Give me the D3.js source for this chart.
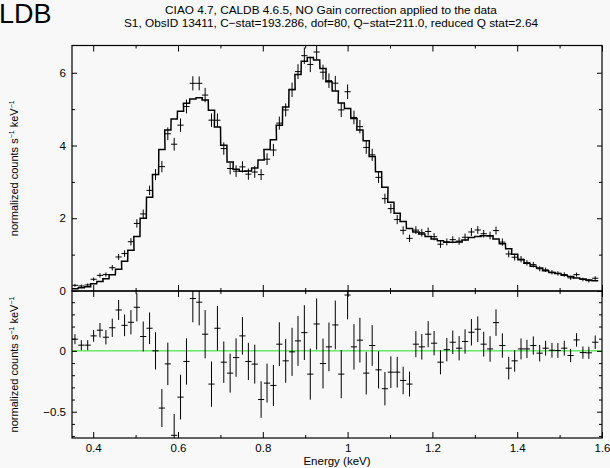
<!DOCTYPE html>
<html>
<head>
<meta charset="utf-8">
<title>Spectral fit</title>
<script src="https://cdnjs.cloudflare.com/ajax/libs/d3/7.8.5/d3.min.js"></script>
<style>
  body {
    margin: 0;
    background: #f8f8f8;
  }

  svg {
    display: block;
    font-family: "Liberation Sans", Arial, Helvetica, sans-serif;
  }

  .frame {
    fill: none;
    stroke: #000;
    stroke-width: 1.2;
  }
</style>
</head>
<body>
<div id="chart"></div>

<script>
  // bin centres (keV), one ACIS channel each
  var energy = [0.357, 0.372, 0.387, 0.401, 0.416, 0.430, 0.445, 0.460, 0.474, 0.489,
    0.503, 0.518, 0.533, 0.547, 0.562, 0.576, 0.591, 0.606, 0.620, 0.635,
    0.650, 0.664, 0.679, 0.693, 0.708, 0.723, 0.737, 0.752, 0.766, 0.781,
    0.796, 0.810, 0.825, 0.839, 0.854, 0.869, 0.883, 0.898, 0.912, 0.927,
    0.942, 0.956, 0.971, 0.985, 1.000, 1.015, 1.029, 1.044, 1.058, 1.073,
    1.088, 1.102, 1.117, 1.131, 1.146, 1.161, 1.175, 1.190, 1.204, 1.219,
    1.234, 1.248, 1.263, 1.277, 1.292, 1.307, 1.321, 1.336, 1.350, 1.365,
    1.380, 1.394, 1.409, 1.423, 1.438, 1.453, 1.467, 1.482, 1.496, 1.511,
    1.526, 1.540, 1.555, 1.569, 1.584];
  var binHalf = 0.0073;

  var model = [0.06, 0.09, 0.12, 0.20, 0.26, 0.34, 0.45, 0.60, 0.82, 1.12,
    1.50, 2.00, 2.58, 3.20, 3.89, 4.43, 4.73, 4.94, 5.16, 5.28,
    5.31, 5.25, 4.97, 4.51, 4.01, 3.55, 3.35, 3.29, 3.30, 3.38,
    3.60, 3.89, 4.16, 4.56, 5.06, 5.54, 5.95, 6.32, 6.42, 6.35,
    6.12, 5.75, 5.50, 5.17, 5.02, 4.74, 4.43, 4.13, 3.70, 3.28,
    2.85, 2.44, 2.14, 1.91, 1.72, 1.62, 1.57, 1.50, 1.43, 1.38,
    1.34, 1.34, 1.35, 1.40, 1.47, 1.50, 1.52, 1.51, 1.43, 1.30,
    1.16, 1.01, 0.86, 0.76, 0.68, 0.63, 0.56, 0.51, 0.48, 0.43,
    0.40, 0.36, 0.33, 0.30, 0.28];

  var counts = [0.156, 0.137, 0.167, 0.323, 0.430, 0.452, 0.640, 0.936, 1.030, 1.355,
    1.858, 2.118, 2.766, 3.200, 3.420, 4.323, 4.036, 4.560, 5.073, 5.710,
    5.710, 5.387, 4.697, 4.696, 3.917, 3.367, 3.295, 3.413, 3.213, 3.271,
    3.200, 3.625, 3.876, 4.615, 4.978, 5.532, 6.032, 6.470, 6.229, 6.571,
    6.016, 5.783, 5.713, 4.979, 5.479, 4.773, 4.518, 3.947, 3.744, 3.124,
    2.539, 2.265, 1.965, 1.667, 1.447, 1.675, 1.603, 1.637, 1.493, 1.287,
    1.350, 1.411, 1.372, 1.477, 1.623, 1.678, 1.575, 1.526, 1.662, 1.344,
    1.018, 0.928, 0.876, 0.776, 0.724, 0.611, 0.582, 0.515, 0.483, 0.452,
    0.362, 0.450, 0.316, 0.284, 0.351];

  var resid = [0.096, 0.047, 0.047, 0.123, 0.170, 0.112, 0.190, 0.336, 0.210, 0.235,
    0.358, 0.118, 0.186, 0.000, -0.470, -0.107, -0.694, -0.380, -0.087, 0.430,
    0.400, 0.137, -0.273, 0.186, -0.093, -0.183, -0.055, 0.123, -0.087, -0.109,
    -0.400, -0.265, -0.284, 0.055, -0.082, -0.008, 0.082, 0.150, -0.191, 0.221,
    -0.104, 0.033, 0.213, -0.191, 0.459, 0.033, 0.088, -0.183, 0.044, -0.156,
    -0.311, -0.175, -0.175, -0.243, -0.273, 0.055, 0.033, 0.137, 0.063, -0.093,
    0.010, 0.071, 0.022, 0.077, 0.153, 0.178, 0.055, 0.016, 0.232, 0.044,
    -0.142, -0.082, 0.016, 0.016, 0.044, -0.019, 0.022, 0.005, 0.003, 0.022,
    -0.038, 0.090, -0.014, -0.016, 0.071];

  var err = [0.041, 0.041, 0.041, 0.048, 0.059, 0.059, 0.075, 0.082, 0.089, 0.100,
    0.116, 0.123, 0.130, 0.153, 0.156, 0.175, 0.175, 0.184, 0.190, 0.195,
    0.190, 0.198, 0.186, 0.184, 0.170, 0.160, 0.158, 0.154, 0.153, 0.160,
    0.150, 0.160, 0.168, 0.180, 0.180, 0.198, 0.205, 0.225, 0.210, 0.210,
    0.205, 0.200, 0.200, 0.198, 0.200, 0.187, 0.184, 0.175, 0.167, 0.153,
    0.137, 0.130, 0.126, 0.113, 0.102, 0.107, 0.105, 0.107, 0.100, 0.100,
    0.096, 0.096, 0.100, 0.100, 0.109, 0.105, 0.102, 0.105, 0.109, 0.100,
    0.093, 0.089, 0.086, 0.075, 0.075, 0.068, 0.061, 0.061, 0.061, 0.061,
    0.055, 0.055, 0.050, 0.050, 0.055];

  var xMajor = [0.4, 0.6, 0.8, 1.0, 1.2, 1.4, 1.6];
  var xMinor = [0.5, 0.7, 0.9, 1.1, 1.3, 1.5];
  var topMajor = [0, 2, 4, 6];
  var topMinor = [1, 3, 5];
  var resMajor = [-0.5, 0];
  var resMinor = [-0.7, -0.6, -0.4, -0.3, -0.2, -0.1, 0.1, 0.2, 0.3, 0.4];

  var titleLines = ["CIAO 4.7, CALDB 4.6.5, NO Gain correction applied to the data",
    "S1, ObsID 13411, C\u2212stat=193.286, dof=80, Q\u2212stat=211.0, reduced Q stat=2.64"];
  var cornerText = "LDB";
  var xTitle = "Energy (keV)";

  var width = 610;
  var height = 468;
  var font = "'Liberation Sans', Arial, Helvetica, sans-serif";

  var svg = d3.select("#chart")
    .append("svg")
    .attr("width", width)
    .attr("height", height);

  svg.append("rect")
    .attr("width", width)
    .attr("height", height)
    .attr("fill", "#f8f8f8");

  var x = d3.scaleLinear().domain([0.35, 1.6]).range([72, 602]);
  var yTop = d3.scaleLinear().domain([0, 6.75]).range([291, 45.5]);
  var yRes = d3.scaleLinear().domain([-0.716, 0.492]).range([438, 291]);

  var defs = svg.append("defs");
  defs.append("clipPath").attr("id", "clipTop")
    .append("rect")
    .attr("x", x.range()[0]).attr("y", yTop.range()[1])
    .attr("width", x.range()[1] - x.range()[0])
    .attr("height", yTop.range()[0] - yTop.range()[1]);
  defs.append("clipPath").attr("id", "clipRes")
    .append("rect")
    .attr("x", x.range()[0]).attr("y", yRes.range()[1])
    .attr("width", x.range()[1] - x.range()[0])
    .attr("height", yRes.range()[0] - yRes.range()[1]);

  var bins = energy.map(function(e, i) {
    return { e: e, model: model[i], data: counts[i], res: resid[i], err: err[i] };
  });

  // ---- top panel: model steps + data crosses
  var topG = svg.append("g").attr("clip-path", "url(#clipTop)");

  var stepPts = [];
  bins.forEach(function(b) {
    stepPts.push([b.e - binHalf, b.model]);
    stepPts.push([b.e + binHalf, b.model]);
  });

  topG.append("path")
    .datum(stepPts)
    .attr("fill", "none")
    .attr("stroke", "#000")
    .attr("stroke-width", 1.5)
    .attr("d", d3.line()
      .x(function(d) { return x(d[0]); })
      .y(function(d) { return yTop(d[1]); }));

  function drawCrosses(g, yScale, key) {
    var c = g.selectAll("g.cross")
      .data(bins)
      .enter()
      .append("g")
      .attr("class", "cross");
    c.append("line")
      .attr("x1", function(d) { return x(d.e - binHalf); })
      .attr("x2", function(d) { return x(d.e + binHalf); })
      .attr("y1", function(d) { return yScale(d[key]); })
      .attr("y2", function(d) { return yScale(d[key]); })
      .attr("stroke", "#000")
      .attr("stroke-width", 1);
    c.append("line")
      .attr("x1", function(d) { return x(d.e); })
      .attr("x2", function(d) { return x(d.e); })
      .attr("y1", function(d) { return yScale(d[key] - d.err); })
      .attr("y2", function(d) { return yScale(d[key] + d.err); })
      .attr("stroke", "#000")
      .attr("stroke-width", 1);
  }

  drawCrosses(topG, yTop, "data");

  // ---- residual panel
  var resG = svg.append("g").attr("clip-path", "url(#clipRes)");

  resG.append("line")
    .attr("x1", x.range()[0])
    .attr("x2", x.range()[1])
    .attr("y1", yRes(0))
    .attr("y2", yRes(0))
    .attr("stroke", "#1ee01e")
    .attr("stroke-width", 1);

  drawCrosses(resG, yRes, "res");

  // ---- ticks, all pointing inwards
  function tickAxis(axisFn, scale, values, size, pos, labels) {
    var ax = axisFn(scale)
      .tickValues(values)
      .tickSizeInner(-size)
      .tickSizeOuter(0)
      .tickPadding(6)
      .tickFormat(labels ? d3.format("~g") : function() { return ""; });
    var g = svg.append("g")
      .attr("transform", pos)
      .call(ax);
    g.select(".domain").remove();
    g.selectAll("line").attr("stroke", "#000").attr("stroke-width", 1);
    g.selectAll("text")
      .attr("font-size", "11.5px")
      .attr("font-family", font)
      .attr("fill", "#000");
    return g;
  }

  var L = x.range()[0], R = x.range()[1];

  // top panel
  tickAxis(d3.axisBottom, x, xMajor, 6, "translate(0," + yTop.range()[0] + ")", false);
  tickAxis(d3.axisBottom, x, xMinor, 3, "translate(0," + yTop.range()[0] + ")", false);
  tickAxis(d3.axisTop, x, xMajor, 6, "translate(0," + yTop.range()[1] + ")", false);
  tickAxis(d3.axisTop, x, xMinor, 3, "translate(0," + yTop.range()[1] + ")", false);
  tickAxis(d3.axisLeft, yTop, topMajor, 5, "translate(" + L + ",0)", true);
  tickAxis(d3.axisLeft, yTop, topMinor, 3, "translate(" + L + ",0)", false);
  tickAxis(d3.axisRight, yTop, topMajor, 5, "translate(" + R + ",0)", false);
  tickAxis(d3.axisRight, yTop, topMinor, 3, "translate(" + R + ",0)", false);

  // residual panel
  tickAxis(d3.axisBottom, x, xMajor, 6, "translate(0," + yRes.range()[0] + ")", true);
  tickAxis(d3.axisBottom, x, xMinor, 3, "translate(0," + yRes.range()[0] + ")", false);
  tickAxis(d3.axisTop, x, xMajor, 6, "translate(0," + yRes.range()[1] + ")", false);
  tickAxis(d3.axisTop, x, xMinor, 3, "translate(0," + yRes.range()[1] + ")", false);
  tickAxis(d3.axisLeft, yRes, resMajor, 5, "translate(" + L + ",0)", true);
  tickAxis(d3.axisLeft, yRes, resMinor, 3, "translate(" + L + ",0)", false);
  tickAxis(d3.axisRight, yRes, resMajor, 5, "translate(" + R + ",0)", false);
  tickAxis(d3.axisRight, yRes, resMinor, 3, "translate(" + R + ",0)", false);

  // frames
  svg.append("rect")
    .attr("class", "frame")
    .attr("x", L).attr("y", yTop.range()[1])
    .attr("width", R - L)
    .attr("height", yTop.range()[0] - yTop.range()[1]);
  svg.append("rect")
    .attr("class", "frame")
    .attr("x", L).attr("y", yRes.range()[1])
    .attr("width", R - L)
    .attr("height", yRes.range()[0] - yRes.range()[1]);

  // ---- texts
  svg.append("text")
    .attr("x", -1)
    .attr("y", 23)
    .text(cornerText)
    .attr("font-family", font)
    .attr("font-size", "27px")
    .attr("fill", "#000");

  svg.selectAll("text.title")
    .data(titleLines)
    .enter()
    .append("text")
    .attr("class", "title")
    .attr("x", 331)
    .attr("y", function(d, i) { return 14 + i * 13; })
    .attr("text-anchor", "middle")
    .attr("font-family", font)
    .attr("font-size", "11.8px")
    .attr("fill", "#000")
    .text(function(d) { return d; });

  svg.append("text")
    .attr("x", (L + R) / 2)
    .attr("y", 465)
    .attr("text-anchor", "middle")
    .attr("font-family", font)
    .attr("font-size", "11.5px")
    .attr("fill", "#000")
    .text(xTitle);

  function yTitle(cy) {
    var t = svg.append("text")
      .attr("transform", "translate(18," + cy + ") rotate(-90)")
      .attr("text-anchor", "middle")
      .attr("font-family", font)
      .attr("font-size", "11px")
      .attr("fill", "#000");
    t.append("tspan").text("normalized counts s");
    t.append("tspan").attr("dy", -4).attr("font-size", "7px").text("\u22121");
    t.append("tspan").attr("dy", 4).text(" keV");
    t.append("tspan").attr("dy", -4).attr("font-size", "7px").text("\u22121");
  }

  yTitle((yTop.range()[0] + yTop.range()[1]) / 2);
  yTitle((yRes.range()[0] + yRes.range()[1]) / 2);
</script>
</body>
</html>
